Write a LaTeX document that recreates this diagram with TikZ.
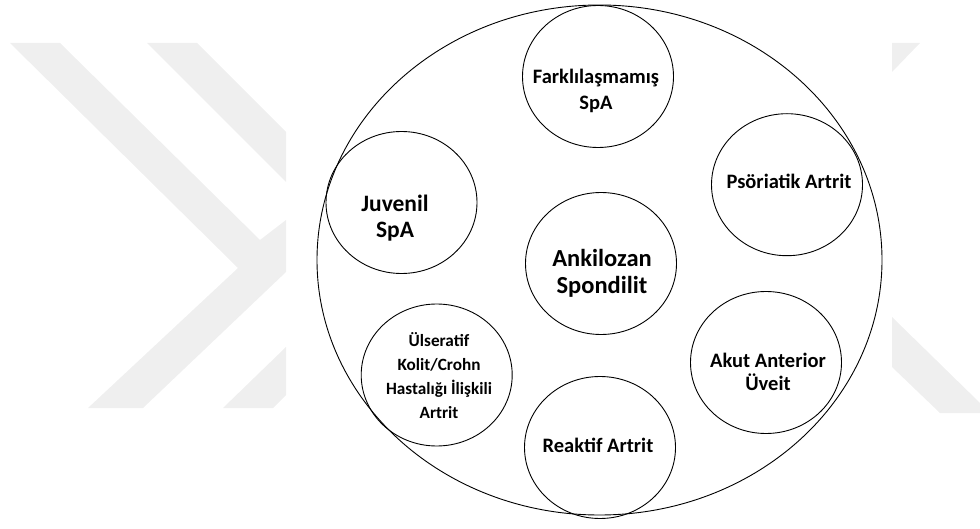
\documentclass[tikz,border=0pt]{standalone}
\usepackage{fontspec}
\setmainfont{Carlito}
\usetikzlibrary{shapes.geometric}
\definecolor{wmgray}{RGB}{239,239,239}
\begin{document}
\begin{tikzpicture}[x=1pt,y=-1pt,
  outer/.style={draw=black, line width=0.9pt, ellipse, minimum width=565pt, minimum height=510pt, inner sep=0pt},
  small/.style={draw=black, line width=0.9pt, ellipse, minimum width=151pt, minimum height=142pt, inner sep=0pt},
  lbl/.style={align=center, inner sep=0pt},
  wm/.style={fill=wmgray, draw=none}]
\useasboundingbox (0,0) rectangle (980,529);
% watermark
\fill[wm] (10,43) -- (60,43) -- (260,240) -- (286,220) -- (286,272) -- (143,408) -- (88,408) -- (238,268) -- cycle;
\fill[wm] (147,43) -- (197,43) -- (286,132) -- (286,182) -- cycle;
\fill[wm] (223,408) -- (273,408) -- (286,395) -- (286,347) -- cycle;
\fill[wm] (892,43) -- (920,43) -- (892,72) -- cycle;
\fill[wm] (892,317) -- (980,403) -- (980,413) -- (940,413) -- (892,367) -- cycle;
% outer
\node[outer] (big) at (599.5,260) {};
% small circles
\node[small] (c1) at (598,76.5) {};
\node[small] (c2) at (401.5,202.5) {};
\node[small] (c3) at (601,263.5) {};
\node[small] (c4) at (436.7,375) {};
\node[small] (c5) at (600,447.5) {};
\node[small] (c6) at (787,184.7) {};
\node[small] (c7) at (766,362.5) {};
% labels
\node[lbl, font=\bfseries\fontsize{20.5}{26.7}\selectfont] (t1) at (596,91) {Farklılaşmamış\\SpA};
\node[lbl, font=\bfseries\fontsize{23.5}{26.7}\selectfont] (t2) at (395,218) {Juvenil\\SpA};
\node[lbl, font=\bfseries\fontsize{24.5}{26.7}\selectfont] (t3) at (602,273) {Ankilozan\\Spondilit};
\node[lbl, font=\bfseries\fontsize{17.2}{24}\selectfont] (t4) at (439,376) {Ülseratif\\Kolit/Crohn\\Hastalığı İlişkili\\Artrit};
\node[lbl, font=\bfseries\fontsize{20.5}{23}\selectfont] (t5) at (598,445) {Reaktif Artrit};
\node[lbl, font=\bfseries\fontsize{20.5}{23}\selectfont] (t6) at (789,181) {Psöriatik Artrit};
\node[lbl, font=\bfseries\fontsize{20.5}{23}\selectfont] (t7) at (768,372) {Akut Anterior\\Üveit};
\end{tikzpicture}
\end{document}
